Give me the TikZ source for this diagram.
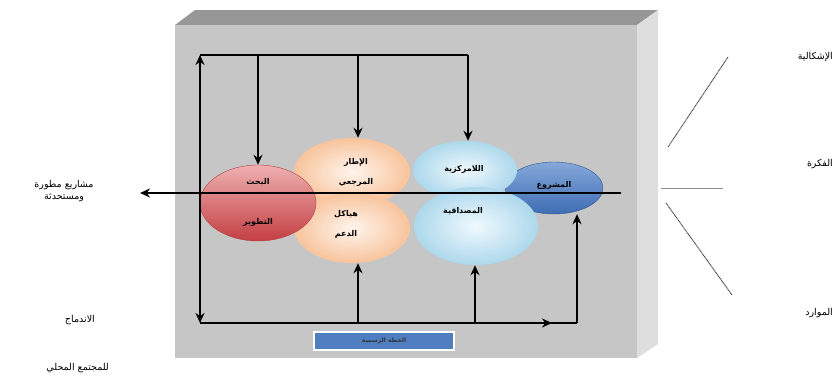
\documentclass[tikz,border=0pt]{standalone}
\usepackage{fontspec}
\newfontfamily\arabicfont[Script=Arabic]{DejaVu Sans}
\TeXXeTstate=1
\usetikzlibrary{arrows.meta,shapes.geometric}
\definecolor{boxfront}{HTML}{C6C6C6}
\definecolor{boxtop}{HTML}{979797}
\definecolor{boxside}{HTML}{DEDEDE}
\definecolor{redtop}{HTML}{EEB0B0}
\definecolor{redbot}{HTML}{C43F43}
\definecolor{redline}{HTML}{B04040}
\definecolor{orin}{HTML}{FFF4EC}
\definecolor{orout}{HTML}{F8C49C}
\definecolor{bluein}{HTML}{F0F9FD}
\definecolor{blueout}{HTML}{ADD8EC}
\definecolor{dbtop}{HTML}{86A8DA}
\definecolor{dbbot}{HTML}{3E6DB3}
\definecolor{planbox}{HTML}{4F7FC0}
\begin{document}
\begin{tikzpicture}[x=1pt,y=-1pt,
  ar/.style={font=\arabicfont\bfseries\fontsize{8}{9}\selectfont, inner sep=1pt},
  sidetext/.style={font=\arabicfont\fontsize{9.5}{12}\selectfont, inner sep=1pt},
  ln/.style={line width=1.6pt, black},
  tip/.tip={Stealth[length=10pt,width=9pt]},
  arr/.style={ln, -tip},
  ell/.style={ellipse, inner sep=0pt},
  dotl/.style={line width=0.9pt, black!80, dash pattern=on 1pt off 0.6pt}]
\useasboundingbox (0,0) rectangle (834,383);
% box
\fill[boxtop] (175,25) -- (195,10) -- (658,10) -- (637,25) -- cycle;
\fill[boxside] (637,25) -- (658,10) -- (658,344) -- (637,358) -- cycle;
\fill[boxfront] (175,25) rectangle (637,358);
% ellipses
\node[ell, minimum width=98pt, minimum height=52pt, draw=dbbot!80!black, top color=dbtop, bottom color=dbbot] (proj) at (554,188) {};
\node[ell, minimum width=116pt, minimum height=68pt, inner color=orin, outer color=orout] (ortop) at (352,172) {};
\node[ell, minimum width=116pt, minimum height=70pt, inner color=orin, outer color=orout] (orbot) at (352,228) {};
\node[ell, minimum width=104pt, minimum height=58pt, inner color=bluein, outer color=blueout] (bltop) at (465,170) {};
\node[ell, minimum width=124pt, minimum height=78pt, inner color=bluein, outer color=blueout] (blbot) at (476,226) {};
\node[ell, minimum width=116pt, minimum height=76pt, draw=redline, top color=redtop, bottom color=redbot] (rd) at (258,203) {};
% ellipse texts
\node[ar] (t1) at (258,182) {\beginR البحث\endR};
\node[ar] (t2) at (258,222) {\beginR التطوير\endR};
\node[ar] (t3) at (356,162) {\beginR الإطار\endR};
\node[ar] (t4) at (356,182) {\beginR المرجعي\endR};
\node[ar] (t5) at (346,214) {\beginR هياكل\endR};
\node[ar] (t6) at (346,234) {\beginR الدعم\endR};
\node[ar] (t7) at (464,169) {\beginR اللامركزية\endR};
\node[ar] (t8) at (463,211) {\beginR المصداقية\endR};
\node[ar] (t9) at (554,185) {\beginR المشروع\endR};
% frame lines
\coordinate (tl) at (200,55);
\coordinate (tr) at (468,55);
\coordinate (bl) at (200,323);
\coordinate (br) at (577,323);
\coordinate (c1) at (258,55);
\coordinate (c2) at (358,55);
\coordinate (b1) at (358,323);
\coordinate (b2) at (475,323);
\draw[ln] (tl) -- (tr);
\draw[ln, tip-tip] (tl) -- (bl);
\draw[arr] (c1) -- (c1 |- rd.north);
\draw[arr] (c2) -- (c2 |- ortop.north);
\draw[arr] (tr) -- (tr |- bltop.north);
\draw[ln] (bl) -- (br);
\draw[arr] (bl) -- (552,323);
\draw[arr] (br) -- (br |- proj.south);
\draw[arr] (b1) -- (b1 |- orbot.south);
\draw[arr] (b2) -- (b2 |- blbot.south);
% main axis
\coordinate (axr) at (621,193);
\coordinate (axl) at (140,193);
\draw[arr] (axr) -- (axl);
% plan box
\node[draw=white, line width=1.5pt, fill=planbox, minimum width=140pt, minimum height=18pt, inner sep=0pt] (plan) at (384,341) {};
\node[ar, font=\arabicfont\bfseries\fontsize{6}{7}\selectfont, text=black!80] (plantext) at (plan.center) {\beginR الخطة الرسمية\endR};
% left texts
\node[sidetext, align=center] (out) at (64,191) {\beginR مشاريع مطورة\endR\\\beginR ومستحدثة\endR};
\node[sidetext, anchor=east] (integ) at (96,320) {\beginR الاندماج\endR};
\node[sidetext, anchor=east] (comm) at (110,368) {\beginR للمجتمع المحلي\endR};
% right texts and lines
\node[sidetext, anchor=east] (prob) at (834,57) {\beginR الإشكالية\endR};
\node[sidetext, anchor=east] (idea) at (834,164) {\beginR الفكرة\endR};
\node[sidetext, anchor=east] (res) at (834,313) {\beginR الموارد\endR};
\coordinate (p1) at (668,147);
\coordinate (p2) at (728,57);
\coordinate (h1) at (661,188);
\coordinate (h2) at (723,188);
\coordinate (q1) at (666,203);
\coordinate (q2) at (732,295);
\draw[dotl] (p1) -- (p2);
\draw[line width=0.9pt, black!45] (h1) -- (h2);
\draw[dotl] (q1) -- (q2);
\end{tikzpicture}
\end{document}
